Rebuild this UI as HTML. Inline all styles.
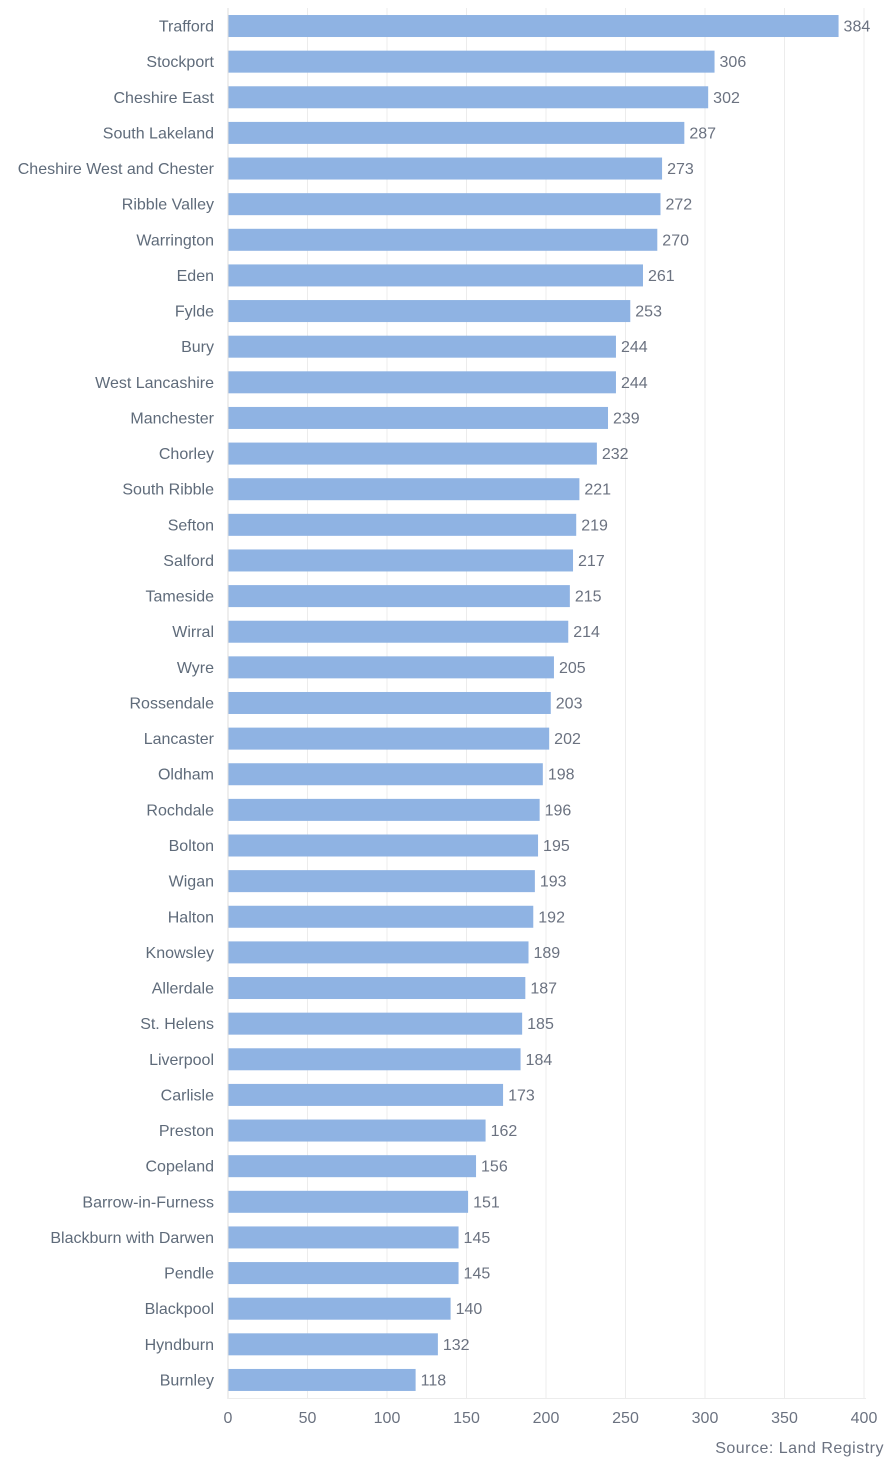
<!DOCTYPE html>
<html><head><meta charset="utf-8">
<style>
body{margin:0;background:#fff;}
svg text{font-family:"Liberation Sans",sans-serif;}
</style></head>
<body>
<svg id="chart" width="896" height="1470" xmlns="http://www.w3.org/2000/svg">
<g id="grid"></g>
<g id="bars"></g>
<g id="labels"></g>
<g id="xticks"></g>
<text x="884" y="1453" text-anchor="end" font-size="16" fill="#6b7280" letter-spacing="0.5">Source: Land Registry</text>
</svg>
<script>
const categories=["Trafford","Stockport","Cheshire East","South Lakeland","Cheshire West and Chester","Ribble Valley","Warrington","Eden","Fylde","Bury","West Lancashire","Manchester","Chorley","South Ribble","Sefton","Salford","Tameside","Wirral","Wyre","Rossendale","Lancaster","Oldham","Rochdale","Bolton","Wigan","Halton","Knowsley","Allerdale","St. Helens","Liverpool","Carlisle","Preston","Copeland","Barrow-in-Furness","Blackburn with Darwen","Pendle","Blackpool","Hyndburn","Burnley"];
const values=[384,306,302,287,273,272,270,261,253,244,244,239,232,221,219,217,215,214,205,203,202,198,196,195,193,192,189,187,185,184,173,162,156,151,145,145,140,132,118];
const ticks=[0,50,100,150,200,250,300,350,400];
const NS="http://www.w3.org/2000/svg";
const x0=228,x1=864,xmax=400,yTop=8.2,step=35.63,barH=22;
const xs=v=>x0+(x1-x0)*v/xmax;
const yc=i=>yTop+step*(i+0.5);
function mk(t,a,p){const e=document.createElementNS(NS,t);for(const k in a)e.setAttribute(k,a[k]);p.appendChild(e);return e;}
const grid=document.getElementById('grid'),bars=document.getElementById('bars'),labels=document.getElementById('labels'),xt=document.getElementById('xticks');
ticks.forEach(t=>{
  const l=mk('line',{x1:xs(t),x2:xs(t),y1:8,y2:1399,stroke:t===0?'#dcdcdc':'#ececec','stroke-width':1},grid);
  
  
  const tx=mk('text',{x:xs(t),y:1423,'text-anchor':'middle','font-size':16,fill:'#6b7280'},xt);
  tx.textContent=t;
  
  
});
mk('line',{x1:x0,x2:x1+2,y1:1398.5,y2:1398.5,stroke:'#ececec'},grid);
categories.forEach((c,i)=>{
  const y=yc(i);
  const r=mk('rect',{x:x0+0.5,y:y-barH/2,width:xs(values[i])-x0-0.5,height:barH,fill:'#8fb3e3'},bars);
  
  
  const v=mk('text',{x:xs(values[i])+5,y:y+5.5,'font-size':16,fill:'#6b7280'},bars);
  v.textContent=values[i];
  
  
  const t=mk('text',{x:214,y:y+5.5,'text-anchor':'end','font-size':16,fill:'#5f6b7a'},labels);
  t.textContent=c;
  
  
});
</script>
</body></html>
